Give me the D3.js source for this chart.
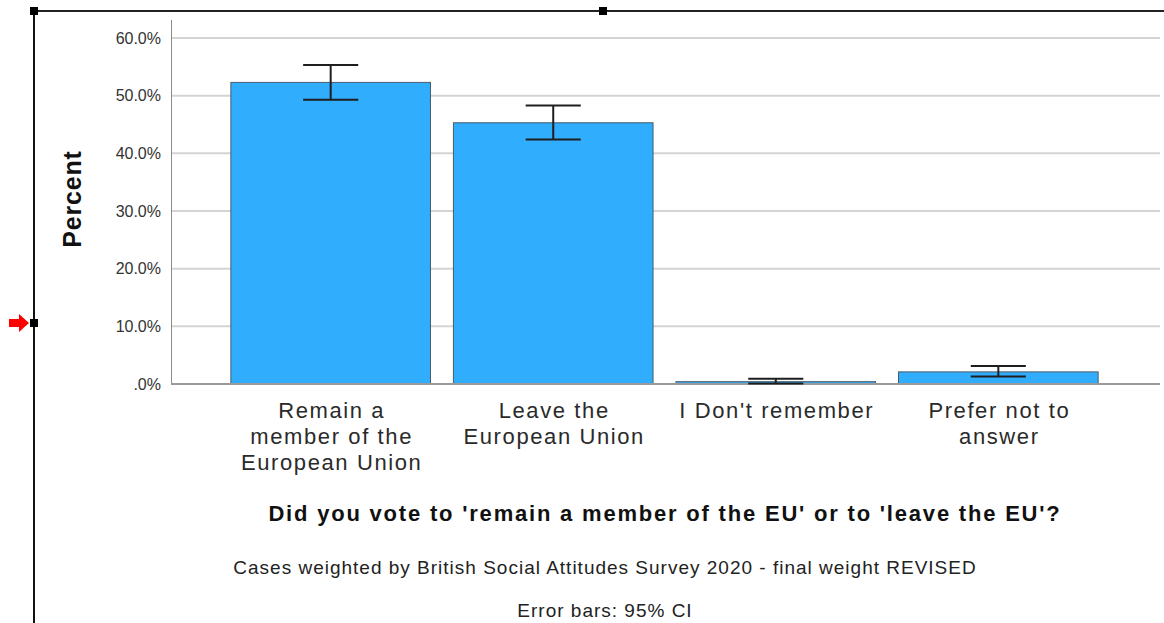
<!DOCTYPE html>
<html>
<head>
<meta charset="utf-8">
<script src="https://cdn.jsdelivr.net/npm/d3@7"></script>
<style>
  html, body { margin: 0; padding: 0; background: #fff; }
  svg { display: block; font-family: "Liberation Sans", Arial, sans-serif; }
</style>
</head>
<body>
<svg id="chart" width="1164" height="623"></svg>
<script>
// Vote in the EU referendum, weighted percentages with 95% confidence intervals
const categories = [
  ["Remain a", "member of the", "European Union"],
  ["Leave the", "European Union"],
  ["I Don't remember"],
  ["Prefer not to", "answer"]
];
const percents = [52.3, 45.3, 0.4, 2.1];
const ciLower  = [49.3, 42.4, 0.1, 1.3];
const ciUpper  = [55.3, 48.3, 0.9, 3.1];
const yTicks   = [0, 10, 20, 30, 40, 50, 60];
const yLabel   = "Percent";
const xTitle   = "Did you vote to 'remain a member of the EU' or to 'leave the EU'?";
const notes    = ["Cases weighted by British Social Attitudes Survey 2020 - final weight REVISED",
                  "Error bars: 95% CI"];

const svg = d3.select("#chart");
const plot = { left: 171, right: 1160, top: 20, bottom: 384 };

const keys = categories.map((c, i) => i);
const x = d3.scaleBand()
  .domain(keys)
  .range([plot.left, plot.right - 2])
  .paddingInner(0.103)
  .paddingOuter(0.269);

const y = d3.scaleLinear()
  .domain([0, 60])
  .range([plot.bottom, 38]);

// Grid lines
svg.append("g")
  .selectAll("line")
  .data(yTicks.filter(t => t > 0))
  .join("line")
  .attr("x1", plot.left).attr("x2", plot.right)
  .attr("y1", d => y(d)).attr("y2", d => y(d))
  .attr("stroke", "#d4d4d4")
  .attr("stroke-width", 2);

// Y axis
const yAxis = svg.append("g")
  .attr("transform", `translate(${plot.left},0)`)
  .call(d3.axisLeft(y)
    .tickValues(yTicks)
    .tickSize(0)
    .tickPadding(10)
    .tickFormat(d => d === 0 ? ".0%" : d.toFixed(1) + "%"));
yAxis.select(".domain").remove();
yAxis.selectAll("text")
  .attr("font-size", 16)
  .attr("fill", "#333")
  .attr("font-family", "'Liberation Sans', Arial, sans-serif");

svg.append("line")
  .attr("x1", plot.left + 0.5).attr("x2", plot.left + 0.5)
  .attr("y1", plot.top).attr("y2", plot.bottom)
  .attr("stroke", "#8c8c8c").attr("stroke-width", 1);

// Bars
svg.append("g")
  .selectAll("rect")
  .data(percents)
  .join("rect")
  .attr("x", (d, i) => x(i))
  .attr("width", x.bandwidth())
  .attr("y", d => y(d))
  .attr("height", d => y(0) - y(d))
  .attr("fill", "#31adfe")
  .attr("stroke", "#4a5c6a")
  .attr("stroke-width", 1);

// Baseline
svg.append("line")
  .attr("x1", plot.left).attr("x2", plot.right)
  .attr("y1", plot.bottom).attr("y2", plot.bottom)
  .attr("stroke", "#9a9a9a").attr("stroke-width", 2);

// Error bars
const capHalf = x.bandwidth() * 0.138;
const eb = svg.append("g")
  .selectAll("g")
  .data(keys)
  .join("g")
  .attr("stroke", "#1e1e1e")
  .attr("stroke-width", 2);
eb.append("line")
  .attr("x1", i => x(i) + x.bandwidth() / 2).attr("x2", i => x(i) + x.bandwidth() / 2)
  .attr("y1", i => y(ciLower[i])).attr("y2", i => y(ciUpper[i]));
eb.append("line")
  .attr("x1", i => x(i) + x.bandwidth() / 2 - capHalf).attr("x2", i => x(i) + x.bandwidth() / 2 + capHalf)
  .attr("y1", i => y(ciUpper[i])).attr("y2", i => y(ciUpper[i]));
eb.append("line")
  .attr("x1", i => x(i) + x.bandwidth() / 2 - capHalf).attr("x2", i => x(i) + x.bandwidth() / 2 + capHalf)
  .attr("y1", i => y(ciLower[i])).attr("y2", i => y(ciLower[i]));

// Category labels
const catG = svg.append("g")
  .selectAll("text")
  .data(categories)
  .join("text")
  .attr("text-anchor", "middle")
  .attr("font-size", 22)
  .attr("letter-spacing", 1.6)
  .attr("fill", "#2a2a2a")
  .attr("y", 418);
catG.selectAll("tspan")
  .data((d, i) => d.map(s => ({ s, i })))
  .join("tspan")
  .attr("x", d => x(d.i) + x.bandwidth() / 2 + 1)
  .attr("dy", (d, j) => j === 0 ? 0 : 26)
  .text(d => d.s);

// Axis titles
svg.append("text")
  .attr("transform", "translate(81,199) rotate(-90)")
  .attr("text-anchor", "middle")
  .attr("font-size", 25)
  .attr("letter-spacing", 0.8)
  .attr("font-weight", "bold")
  .attr("fill", "#111")
  .text(yLabel);

svg.append("text")
  .attr("x", 665).attr("y", 521)
  .attr("text-anchor", "middle")
  .attr("font-size", 22)
  .attr("letter-spacing", 1.8)
  .attr("font-weight", "bold")
  .attr("fill", "#111")
  .text(xTitle);

svg.append("g")
  .selectAll("text")
  .data(notes)
  .join("text")
  .attr("x", 605).attr("y", (d, i) => 574 + i * 43)
  .attr("text-anchor", "middle")
  .attr("font-size", 19)
  .attr("letter-spacing", 1.0)
  .attr("fill", "#222")
  .text(d => d);

// Selection frame with handles
svg.append("line").attr("x1", 34).attr("x2", 1164).attr("y1", 11).attr("y2", 11)
  .attr("stroke", "#222").attr("stroke-width", 2);
svg.append("line").attr("x1", 34).attr("x2", 34).attr("y1", 11).attr("y2", 623)
  .attr("stroke", "#111").attr("stroke-width", 2);
svg.append("g")
  .selectAll("rect")
  .data([[34, 11], [603, 11], [34, 323]])
  .join("rect")
  .attr("x", d => d[0] - 4).attr("y", d => d[1] - 4)
  .attr("width", 8).attr("height", 8)
  .attr("fill", "#000");

// Red pointer arrow
svg.append("path")
  .attr("d", "M9,319 L19,319 L19,314 L29,323 L19,332 L19,327 L9,327 Z")
  .attr("fill", "#f00");
</script>
</body>
</html>
